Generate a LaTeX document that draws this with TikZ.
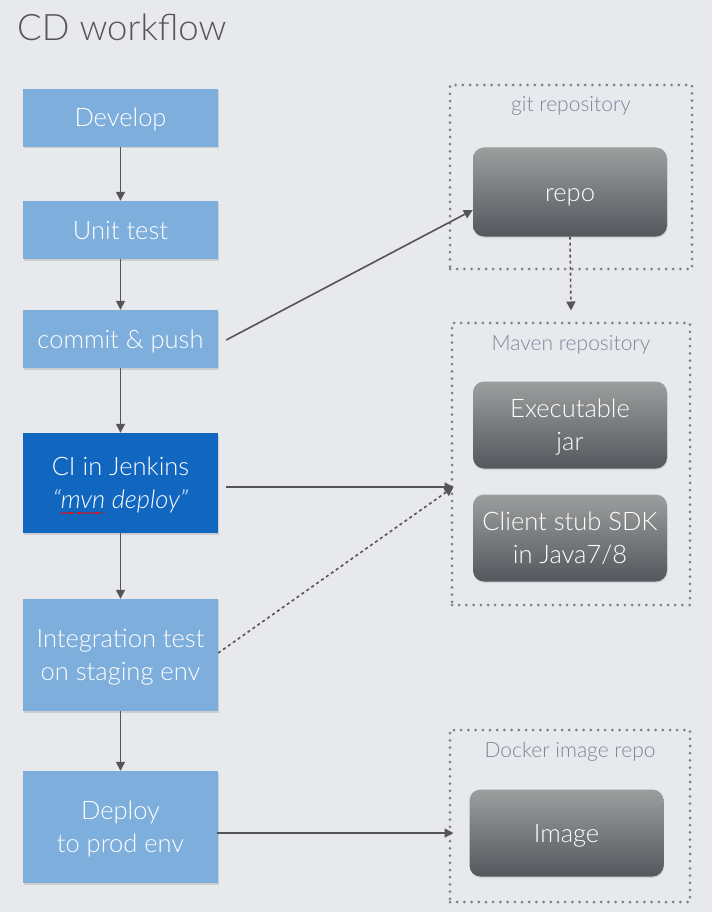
\documentclass[tikz,border=0pt]{standalone}
\usepackage{fontspec}
\setmainfont{Lato}[UprightFont={* Light},ItalicFont={* Light Italic}]
\usetikzlibrary{arrows.meta,shadows}
\newcommand\tstrut{\rule[-7pt]{0pt}{32pt}}
\definecolor{bgc}{HTML}{E8E9EC}
\definecolor{lblue}{HTML}{7EAEDC}
\definecolor{dblue}{HTML}{1166C0}
\definecolor{arrc}{HTML}{555555}
\definecolor{dotc}{HTML}{7E8084}
\definecolor{labc}{HTML}{7A889B}
\definecolor{gtop}{HTML}{9C9E9E}
\definecolor{gbot}{HTML}{54575D}
\tikzset{
  stepbox/.style={minimum width=195pt, align=center, text=white, inner sep=0pt,
    font=\fontsize{25.5}{33}\selectfont,
    drop shadow={opacity=0.25, shadow xshift=1pt, shadow yshift=-1.5pt}},
  lightbox/.style={stepbox, fill=lblue},
  darkbox/.style={stepbox, fill=dblue},
  greybox/.style={minimum width=194pt, minimum height=87pt, rounded corners=11pt,
    top color=gtop, bottom color=gbot, align=center, text=white, inner sep=0pt,
    font=\fontsize{25.5}{33}\selectfont,
    drop shadow={opacity=0.2, shadow xshift=0.5pt, shadow yshift=-1.5pt}},
  container/.style={draw=dotc, line width=3pt, line cap=round,
    dash pattern=on 0pt off 7.2pt, inner sep=0pt},
  contlabel/.style={text=labc, font=\fontsize{21}{24}\selectfont, inner sep=0pt},
  arr/.style={draw=arrc, line width=1.6pt, -{Triangle[width=9pt,length=9pt]}},
}
\begin{document}
\begin{tikzpicture}[x=1pt,y=-1pt]
\fill[bgc] (0,0) rectangle (712,912);
\useasboundingbox (0,0) rectangle (712,912);

\node[anchor=base west, text=arrc, font=\fontsize{36.5}{40}\selectfont, inner sep=0pt] (title) at (17,41) {CD workflow};

% left flow
\node[lightbox, minimum height=58pt] (dev) at (120.5,118) {\tstrut Develop};
\node[lightbox, minimum height=58pt] (unit) at (120.5,230) {\tstrut Unit test};
\node[lightbox, minimum height=58pt] (commit) at (120.5,339) {\tstrut commit \& push};
\node[darkbox, minimum height=100pt] (ci) at (120.5,483) {\tstrut CI in Jenkins\\\tstrut\textit{``mvn deploy''}};
\node[lightbox, minimum height=112pt] (integ) at (120.5,655) {\tstrut Integration test\\\tstrut on staging env};
\node[lightbox, minimum height=112pt] (deploy) at (120.5,827) {\tstrut Deploy\\\tstrut to prod env};

% red squiggle under mvn
\draw[red, line width=1.3pt, dash pattern=on 1.3pt off 1.3pt] (60,513) -- (104,513);

% containers
\node[container, minimum width=242pt, minimum height=184pt] (git) at (571,177) {};
\node[contlabel] (gitlab) at (571,106) {git repository};
\node[greybox, minimum height=89pt] (repo) at (570,192) {\tstrut repo};

\node[container, minimum width=238pt, minimum height=282pt] (maven) at (571,464) {};
\node[contlabel] (mavlab) at (571,345) {Maven repository};
\node[greybox] (exec) at (570,425) {\tstrut Executable\\\tstrut jar};
\node[greybox] (client) at (570,538) {\tstrut Client stub SDK\\\tstrut in Java7/8};

\node[container, minimum width=240pt, minimum height=172pt] (docker) at (570,816) {};
\node[contlabel] (doclab) at (570,752) {Docker image repo};
\node[greybox] (image) at (566.5,833) {\tstrut Image};

% connectors
\draw[arr] (dev.south) -- (unit.north);
\draw[arr] (unit.south) -- (commit.north);
\draw[arr] (commit.south) -- (ci.north);
\draw[arr] (ci.south) -- (integ.north);
\draw[arr] (integ.south) -- (deploy.north);

\draw[arr] ([xshift=8pt,yshift=-1pt]commit.east) -- ([yshift=-18pt]repo.west);
\draw[arr] ([xshift=8pt,yshift=-4pt]ci.east) -- ([xshift=3pt,yshift=-23pt]maven.west);
\draw[arr, dash pattern=on 3pt off 3pt] ([yshift=2pt]integ.east) -- ([xshift=3pt,yshift=-23pt]maven.west);
\draw[arr, dash pattern=on 3pt off 3pt] (repo.south) -- ([yshift=11pt]maven.north);
\draw[arr] ([xshift=-1pt,yshift=-6pt]deploy.east) -- ([xshift=5pt,yshift=-17pt]docker.west);
\end{tikzpicture}
\end{document}
